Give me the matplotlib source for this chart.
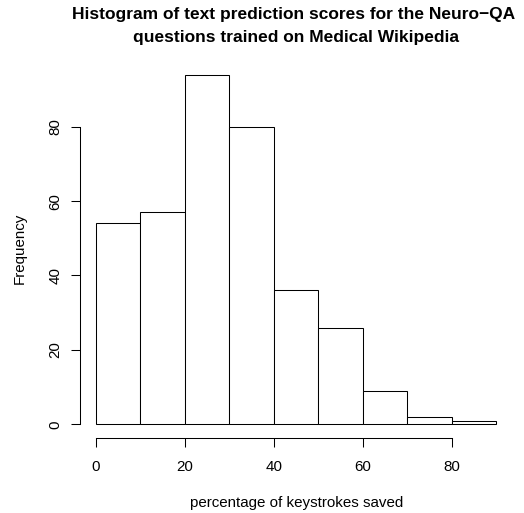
import matplotlib
matplotlib.use("Agg")
import matplotlib.pyplot as plt
import numpy as np

bin_edges = [0, 10, 20, 30, 40, 50, 60, 70, 80, 90]
counts = [54, 57, 94, 80, 36, 26, 9, 2, 1]
x_ticks = [0, 20, 40, 60, 80]
y_ticks = [0, 20, 40, 60, 80]
title_lines = ["Histogram of text prediction scores for the Neuro\u2212QA",
               "questions trained on Medical Wikipedia"]
xlabel = "percentage of keystrokes saved"
ylabel = "Frequency"

plt.rcParams['font.family'] = ['Liberation Sans', 'DejaVu Sans']

W, H = 524, 513
fig = plt.figure(figsize=(W/100, H/100), dpi=100)
renderer = fig.canvas.get_renderer()

def px(x, y):
    return x / W, 1 - y / H

def fit(text_obj, target_w):
    for _ in range(4):
        w = text_obj.get_window_extent(renderer).width
        text_obj.set_fontsize(text_obj.get_fontsize() * target_w / w)
    return text_obj.get_fontsize()

ax = fig.add_axes([80/W, (H-438.3)/H, (512-80)/W, (438.3-60.6)/H])

lefts = np.array(bin_edges[:-1])
widths = np.diff(bin_edges)
ax.bar(lefts, counts, width=widths, align='edge', color='white',
       edgecolor='black', linewidth=0.75)

xr = bin_edges[-1] - bin_edges[0]
ax.set_xlim(bin_edges[0] - 0.04*xr, bin_edges[-1] + 0.04*xr)
yr = max(counts)
ax.set_ylim(-0.04*yr, yr*1.04)

for s in ['top', 'right']:
    ax.spines[s].set_visible(False)
ax.spines['left'].set_bounds(y_ticks[0], y_ticks[-1])
ax.spines['bottom'].set_bounds(x_ticks[0], x_ticks[-1])
ax.spines['left'].set_linewidth(0.75)
ax.spines['bottom'].set_linewidth(0.75)

# x label: fit to measured width
xl = fig.text(*px(296.5, 506.5), xlabel, ha='center', va='baseline', fontsize=10.8)
fs = fit(xl, 213)

yl = fig.text(*px(24, 248), ylabel, ha='center', va='baseline', rotation=90,
              rotation_mode='anchor', fontsize=fs)

ax.set_xticks(x_ticks)
ax.set_yticks(y_ticks)
ax.tick_params(axis='both', direction='out', length=6.5, width=0.75, labelsize=fs)
ax.tick_params(axis='x', pad=(470.7 - 447.3) * 0.72)
ax.tick_params(axis='y', pad=(71 - 59.3) * 0.72)
for lab in ax.get_xticklabels():
    lab.set_va('baseline')
for lab in ax.get_yticklabels():
    lab.set_rotation(90)
    lab.set_rotation_mode('anchor')
    lab.set_ha('center')
    lab.set_va('baseline')

t1 = fig.text(*px(294, 18.5), title_lines[0], ha='center', va='baseline',
              fontsize=13, fontweight='bold')
tfs = fit(t1, 442)
t2 = fig.text(*px(296, 41.7), title_lines[1], ha='center', va='baseline',
              fontsize=tfs, fontweight='bold')

fig.savefig("out.png", dpi=100)
